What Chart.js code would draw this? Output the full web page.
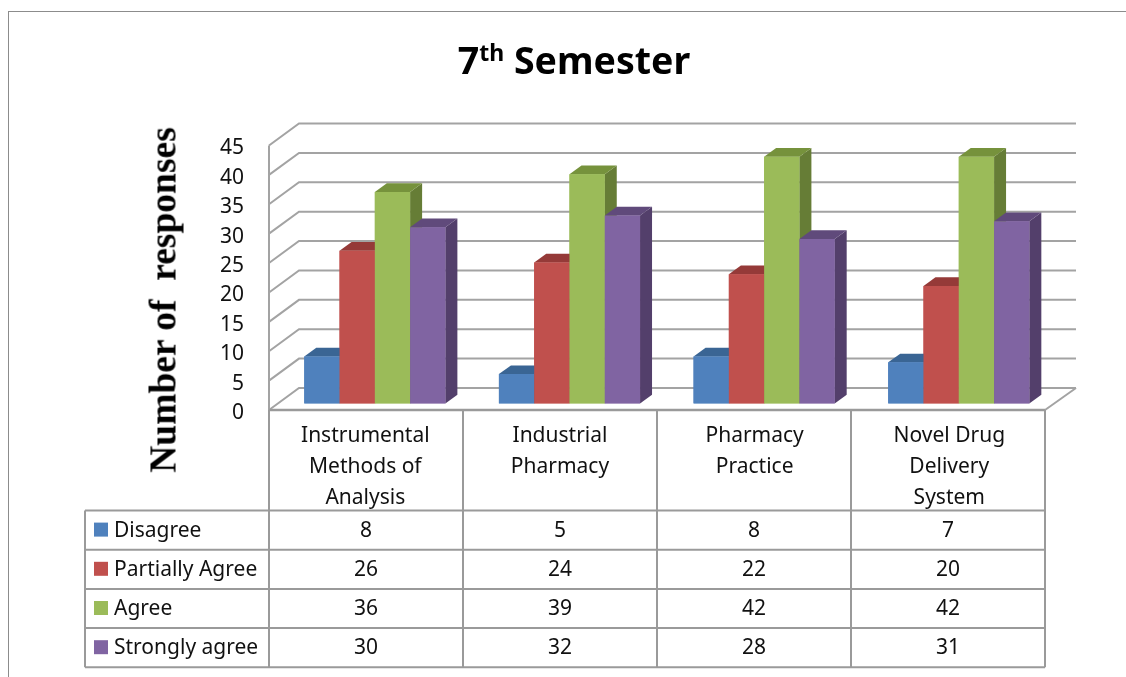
<!DOCTYPE html>
<html>
<head>
<meta charset="utf-8">
<title>7th Semester</title>
<script src="https://cdn.jsdelivr.net/npm/chart.js@4"></script>
<style>
    html, body { margin: 0; padding: 0; background: #fff; overflow: hidden; }
    #wrap { position: relative; width: 1126px; height: 677px; }
    #frame { position: absolute; left: 8px; top: 11px; right: -5px; bottom: -5px; border: 1.5px solid #8c8c8c; }
    #chart { position: absolute; left: 0; top: 0; }
    #title { position: absolute; left: 274px; width: 600px; top: 34px; text-align: center;
             font: bold 37.5px "Noto Sans", sans-serif; color: #000; }
    #title sup { font-size: 23px; line-height: 0; }
    #ytitle { position: absolute; left: 163px; top: 300px; white-space: pre;
              transform: translate(-50%, -50%) rotate(-90deg);
              font: bold 37.5px "Liberation Serif", serif; color: #000; }
</style>
</head>
<body>
<div id="wrap">
    <div id="frame"></div>
    <canvas id="chart" width="1126" height="677"></canvas>
    <div id="title">7<sup>th</sup> Semester</div>
    <div id="ytitle">Number of  responses</div>
</div>
<script>
const categories = [
    ['Instrumental', 'Methods of', 'Analysis'],
    ['Industrial', 'Pharmacy'],
    ['Pharmacy', 'Practice'],
    ['Novel Drug', 'Delivery', 'System']
];
const disagree = [8, 5, 8, 7];
const partiallyAgree = [26, 24, 22, 20];
const agree = [36, 39, 42, 42];
const stronglyAgree = [30, 32, 28, 31];
const yTicks = [0, 5, 10, 15, 20, 25, 30, 35, 40, 45];

const seriesNames = ['Disagree', 'Partially Agree', 'Agree', 'Strongly agree'];
const faceColors = ['#4f81bd', '#c0504d', '#9bbb59', '#8064a2'];
const topColors = ['#3a6594', '#953a38', '#76923c', '#604a7b'];
const sideColors = ['#335a85', '#853230', '#667d36', '#533f6b'];

const FONT = '21px "Noto Sans", sans-serif';
const GRID = '#a3a3a3';
const TABLE = '#9a9a9a';
// bars stand in the middle of the floor, walls are measured from their plane
const WALL_DX = -8.5, WALL_DY = 6.5; // front plane relative to the bars
const BACK_DX = 30, BACK_DY = -22;   // back wall relative to the front plane
const BAR_DX = 12, BAR_DY = -8.7;    // depth of a bar
const COL_W = 194;                   // table columns run slightly tighter than the bars
const ROWS_TOP = 510.5, ROW_H = 39.2, TABLE_LEFT = 85;

function poly(ctx, pts, color) {
    ctx.fillStyle = color;
    ctx.beginPath();
    pts.forEach((p, i) => i ? ctx.lineTo(p[0], p[1]) : ctx.moveTo(p[0], p[1]));
    ctx.closePath();
    ctx.fill();
}

function line(ctx, pts, color, width) {
    ctx.strokeStyle = color;
    ctx.lineWidth = width;
    ctx.beginPath();
    pts.forEach((p, i) => i ? ctx.lineTo(p[0], p[1]) : ctx.moveTo(p[0], p[1]));
    ctx.stroke();
}

function frontLeft(x) {
    const catW = x.getPixelForTick(1) - x.getPixelForTick(0);
    return x.getPixelForTick(0) - catW / 2 + WALL_DX;
}

const walls = {
    id: 'walls',
    beforeDatasetsDraw(chart) {
        const { ctx, scales: { x, y } } = chart;
        const left = frontLeft(x);
        const right = left + COL_W * categories.length;
        ctx.save();
        yTicks.forEach(v => {
            const py = y.getPixelForValue(v) + WALL_DY;
            line(ctx, [[left, py], [left + BACK_DX, py + BACK_DY], [right + BACK_DX + 1, py + BACK_DY]], GRID, 2);
        });
        const y0 = y.getPixelForValue(0) + WALL_DY;
        line(ctx, [[left, y.getPixelForValue(45) + WALL_DY], [left, y0]], GRID, 2);
        line(ctx, [[right, y0], [right + BACK_DX + 1, y0 + BACK_DY]], GRID, 2);
        ctx.restore();
    }
};

// chart.js paints datasets last to first, the depth faces need them first to last
const bars3d = {
    id: 'bars3d',
    afterDatasetsDraw(chart) {
        const ctx = chart.ctx;
        ctx.save();
        chart.data.datasets.forEach((ds, i) => {
            chart.getDatasetMeta(i).data.forEach(bar => {
                const l = bar.x - bar.width / 2, r = bar.x + bar.width / 2;
                poly(ctx, [[r, bar.y], [r + BAR_DX, bar.y + BAR_DY], [r + BAR_DX, bar.base + BAR_DY], [r, bar.base]], sideColors[i]);
                poly(ctx, [[l, bar.y], [l + BAR_DX, bar.y + BAR_DY], [r + BAR_DX, bar.y + BAR_DY], [r, bar.y]], topColors[i]);
                bar.draw(ctx);
            });
        });
        ctx.restore();
    }
};

const dataTable = {
    id: 'dataTable',
    afterDraw(chart) {
        const { ctx, scales: { x, y } } = chart;
        const left = frontLeft(x);
        const right = left + COL_W * categories.length;
        const headTop = y.getPixelForValue(0) + WALL_DY;
        const bottom = ROWS_TOP + ROW_H * seriesNames.length;
        ctx.save();
        // front floor edge and column lines
        line(ctx, [[left, headTop], [right, headTop]], TABLE, 2.5);
        for (let i = 0; i <= categories.length; i++) {
            const cx = left + COL_W * i;
            line(ctx, [[cx, headTop], [cx, bottom]], TABLE, 2);
        }
        line(ctx, [[TABLE_LEFT, ROWS_TOP], [TABLE_LEFT, bottom]], TABLE, 2);
        for (let r = 0; r <= seriesNames.length; r++) {
            line(ctx, [[TABLE_LEFT, ROWS_TOP + ROW_H * r], [right, ROWS_TOP + ROW_H * r]], TABLE, 2);
        }
        ctx.font = FONT;
        ctx.textBaseline = 'middle';
        chart.data.datasets.forEach((ds, r) => {
            const cy = ROWS_TOP + ROW_H * (r + 0.5);
            ctx.fillStyle = faceColors[r];
            ctx.fillRect(TABLE_LEFT + 9, cy - 7.5, 14, 14);
            ctx.fillStyle = '#111';
            ctx.textAlign = 'left';
            ctx.fillText(ds.label, TABLE_LEFT + 29, cy + 0.5);
            ctx.textAlign = 'center';
            ds.data.forEach((v, c) => ctx.fillText(String(v), left + COL_W * (c + 0.5), cy + 0.5));
        });
        ctx.restore();
    }
};

const seriesValues = [disagree, partiallyAgree, agree, stronglyAgree];

new Chart(document.getElementById('chart').getContext('2d'), {
    type: 'bar',
    data: {
        labels: categories,
        datasets: seriesNames.map((name, i) => ({
            label: name,
            data: seriesValues[i],
            backgroundColor: faceColors[i],
            borderWidth: 0,
            barPercentage: 1,
            categoryPercentage: 0.725
        }))
    },
    options: {
        responsive: false,
        animation: false,
        layout: { padding: { top: 139, right: 69.9, left: 0, bottom: 0 } },
        plugins: { legend: { display: false }, title: { display: false }, tooltip: { enabled: false } },
        scales: {
            x: {
                grid: { display: false, drawTicks: false },
                border: { display: false },
                afterFit: scale => { scale.height = 273.5; },
                ticks: {
                    autoSkip: false,
                    maxRotation: 0,
                    minRotation: 0,
                    padding: 17.5,
                    labelOffset: WALL_DX - 1,
                    color: '#111',
                    font: { family: '"Noto Sans", sans-serif', size: 21, lineHeight: 1.476 }
                }
            },
            y: {
                min: 0,
                max: 45,
                grid: { display: false, drawTicks: false },
                border: { display: false },
                afterFit: scale => { scale.width = 277.5; },
                ticks: {
                    stepSize: 5,
                    padding: 33.5,
                    labelOffset: WALL_DY + 3,
                    color: '#111',
                    font: { family: '"Noto Sans", sans-serif', size: 21 }
                }
            }
        }
    },
    plugins: [walls, bars3d, dataTable]
});
</script>
</body>
</html>
